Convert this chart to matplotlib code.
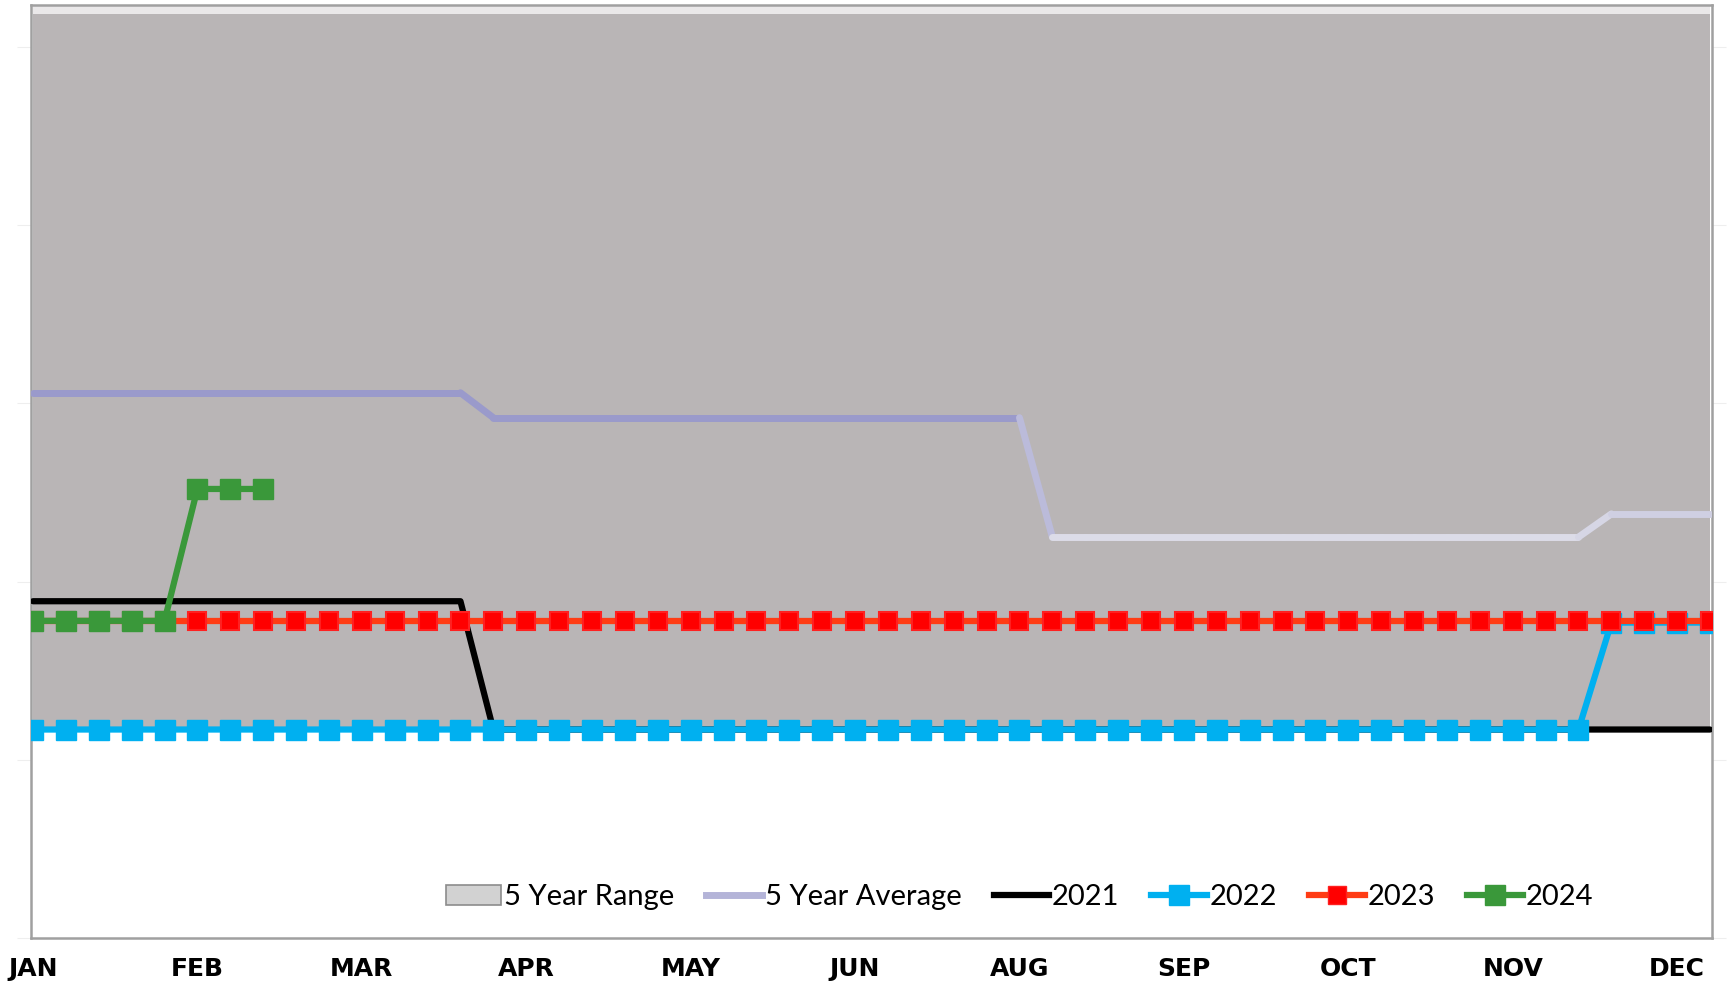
import numpy as np
import matplotlib
matplotlib.use("Agg")
import matplotlib.pyplot as plt
from matplotlib.collections import LineCollection
from matplotlib.lines import Line2D
from matplotlib.patches import Patch
from matplotlib.colors import to_rgb

# weekly values (52 weeks)
weeks = np.arange(52)

range_low = [1.17] * 52
range_high = [5.30] * 52

avg_5yr = ([3.06] * 14) + ([2.92] * 17) + ([2.25] * 17) + ([2.38] * 4)
y2021 = ([1.89] * 14) + ([1.17] * 38)
y2022 = ([1.17] * 48) + ([1.77] * 4)
y2023 = [1.78] * 52
y2024 = ([1.78] * 5) + ([2.52] * 3)

tick_weeks = [0, 5, 10, 15, 20, 25, 30, 35, 40, 45, 50]
tick_labels = ["JAN", "FEB", "MAR", "APR", "MAY", "JUN", "AUG", "SEP", "OCT", "NOV", "DEC"]

fig = plt.figure(figsize=(17.3, 9.81), dpi=100)
ax = fig.add_axes([31 / 1730, 43 / 981, 1681 / 1730, 933 / 981])

# 5 year range area
ax.fill_between(weeks, range_low, range_high, color="#b9b5b6", lw=0, zorder=1)

# 5 year average, coloured from lavender (high) to pale (low)
avg = np.array(avg_5yr)
pts = np.column_stack([weeks, avg])
segs = np.stack([pts[:-1], pts[1:]], axis=1)
c_hi = np.array(to_rgb("#9a9acb"))
c_lo = np.array(to_rgb("#dcdce8"))
mid = (avg[:-1] + avg[1:]) / 2
t = np.clip((mid - 2.25) / (2.92 - 2.25), 0, 1)
cols = [c_lo + (c_hi - c_lo) * v for v in t]
lc = LineCollection(segs, colors=cols, linewidths=5, capstyle="round", joinstyle="round", zorder=3)
ax.add_collection(lc)

ax.plot(weeks, y2021, color="black", lw=4.5, solid_capstyle="round", zorder=4)
ax.plot(weeks, y2022, color="#00b0f0", lw=4.5, marker="s", ms=14, mec="#00b0f0", zorder=5)
ax.plot(weeks, y2023, color="#ff3c14", lw=4.5, marker="s", ms=13, mfc="#ff0000", mec="#ff2020",
        mew=1.5, zorder=6)
ax.plot(weeks[:len(y2024)], y2024, color="#3a983a", lw=4.5, marker="s", ms=14, mec="#3a983a", zorder=7)

# bevel highlight on top
ax.axhspan(5.236 - 0.05, 5.236, color="white", alpha=0.7, lw=0, zorder=2)

ax.set_xlim(-0.06, 51.06)
ax.set_ylim(0, 5.236)
ax.set_yticks([0, 1, 2, 3, 4, 5])
ax.tick_params(axis="y", which="both", left=True, right=True, length=10, color="#eeeeee",
               labelleft=False)
ax.set_xticks(tick_weeks)
ax.set_xticklabels(tick_labels, fontfamily=["Liberation Sans Narrow", "DejaVu Sans"],
                   fontweight="bold", fontsize=18)
ax.tick_params(axis="x", length=0, pad=14)

for s in ax.spines.values():
    s.set_color("#a0a0a0")
    s.set_linewidth(1.8)

handles = [
    Patch(facecolor="#d2d2d2", edgecolor="#8c8c8c", lw=1.2),
    Line2D([], [], color="#b4b4d8", lw=5),
    Line2D([], [], color="black", lw=4.5),
    Line2D([], [], color="#00b0f0", lw=4.5, marker="s", ms=14),
    Line2D([], [], color="#ff3c14", lw=4.5, marker="s", ms=13, mfc="#ff0000", mec="#ff2020"),
    Line2D([], [], color="#3a983a", lw=4.5, marker="s", ms=14),
]
labels = ["5 Year Range", "5 Year Average", "2021", "2022", "2023", "2024"]
leg = ax.legend(handles, labels, loc="center", bbox_to_anchor=(0.588, 0.044), ncol=6,
                frameon=False, handlelength=1.9, handletextpad=0.1, columnspacing=1.1,
                prop={"family": ["Lato", "DejaVu Sans"], "size": 21})
leg.set_zorder(10)

fig.savefig("out.png", dpi=100, facecolor="white")
